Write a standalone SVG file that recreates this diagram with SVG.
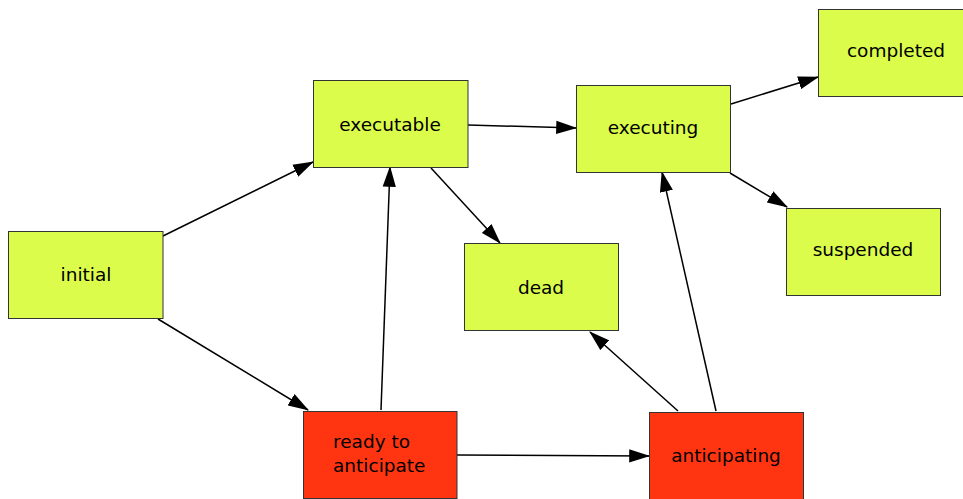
<svg xmlns="http://www.w3.org/2000/svg" width="963" height="499" viewBox="0 0 963 499">
<style>
.n{stroke:#333;stroke-width:1}
.g{fill:#dbfc4b}
.r{fill:#ff3512}
text{font-family:"DejaVu Sans",sans-serif;font-size:18.5px;fill:#000;text-anchor:middle}
.s{text-anchor:start}
.e{stroke:#000;stroke-width:1.5;fill:none;marker-end:url(#a)}
</style>
<defs>
<marker id="a" markerUnits="userSpaceOnUse" markerWidth="22" markerHeight="14" refX="18" refY="6" orient="auto" viewBox="0 0 20 12">
<path d="M0,0 L19,6 L0,12 Z" fill="#000"/>
</marker>
</defs>
<rect width="963" height="499" fill="#fff"/>
<g id="connectors">
<line class="e" x1="163" y1="236" x2="313" y2="162"/>
<line class="e" x1="158" y1="319" x2="308" y2="410"/>
<line class="e" x1="468" y1="125" x2="576" y2="128"/>
<line class="e" x1="431" y1="168" x2="500" y2="243"/>
<line class="e" x1="381" y1="410" x2="390" y2="167"/>
<line class="e" x1="457" y1="455" x2="649" y2="456"/>
<line class="e" x1="678" y1="411" x2="590" y2="332"/>
<line class="e" x1="716" y1="411" x2="662" y2="172"/>
<line class="e" x1="731" y1="104" x2="818" y2="77"/>
<line class="e" x1="730" y1="173" x2="787" y2="207"/>
</g>
<g id="initial"><rect class="n g" x="8.5" y="231.5" width="154.5" height="87"/><text x="86" y="281">initial</text></g>
<g id="executable"><rect class="n g" x="313.5" y="80.5" width="154.5" height="87"/><text x="390" y="131">executable</text></g>
<g id="executing"><rect class="n g" x="576.5" y="85.5" width="154" height="87"/><text x="653" y="134">executing</text></g>
<g id="completed"><rect class="n g" x="818.5" y="9.5" width="155" height="87"/><text x="896" y="57">completed</text></g>
<g id="dead"><rect class="n g" x="464.5" y="243.5" width="154" height="87"/><text x="541" y="294">dead</text></g>
<g id="suspended"><rect class="n g" x="786.5" y="208.5" width="154" height="87"/><text x="863" y="256">suspended</text></g>
<g id="ready"><rect class="n r" x="303.5" y="411.5" width="153.5" height="87"/><text class="s" x="333" y="448">ready to</text><text class="s" x="333" y="472">anticipate</text></g>
<g id="anticipating"><rect class="n r" x="649.5" y="412.5" width="154" height="87"/><text x="726" y="462">anticipating</text></g>
</svg>
